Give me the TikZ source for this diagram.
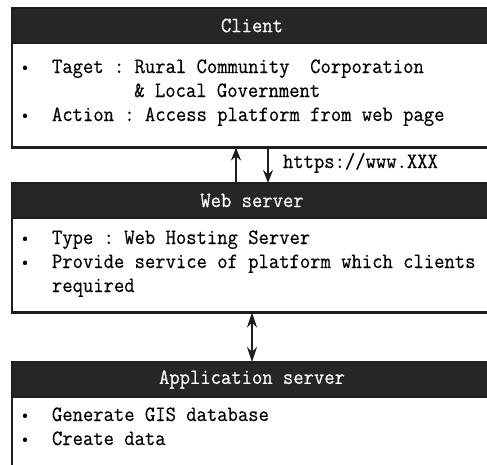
\documentclass[tikz,border=0pt]{standalone}
\usepackage{fontspec}
\setmonofont{Latin Modern Mono}[FakeBold=0.4, FakeStretch=0.92]
\usetikzlibrary{arrows.meta}
\definecolor{ink}{HTML}{1E1E1E}
\definecolor{headfill}{HTML}{262626}
\begin{document}
\begin{tikzpicture}[x=1pt,y=-1pt,
  font=\ttfamily\fontsize{21.8}{24}\selectfont,
  frame/.style={draw=ink, line width=2.5pt, fill=white, anchor=north west,
    minimum width=480pt, inner sep=0pt, outer sep=0pt},
  head/.style={draw=ink, line width=2.5pt, fill=headfill, text=white,
    anchor=north west, minimum width=480pt, minimum height=35pt,
    inner sep=0pt, outer sep=0pt},
  item/.style={anchor=base west, inner sep=0pt, outer sep=0pt},
  dot/.style={anchor=base, inner sep=0pt, outer sep=0pt,
    font=\ttfamily\fontsize{17}{17}\selectfont},
  link/.style={draw=ink, line width=2.2pt, -{Stealth[length=13pt,width=10pt]}},
  both/.style={draw=ink, line width=2.2pt,
    {Stealth[length=15pt,width=10pt]}-{Stealth[length=15pt,width=10pt]}}
]
\useasboundingbox (0,0) rectangle (487,464);
\clip (0,0) rectangle (487,464);

% Client
\node[frame, minimum height=139.5pt] (client) at (12,8) {};
\node[head] (clienthead) at (12,8) {Client};
\node[dot]  (cb1) at (25,72) {\textbullet};
\node[item] (ct1) at (52,73) {Taget : Rural Community\ \ Corporation};
\node[item] (ct2) at (134.3,97) {\& Local Government};
\node[dot]  (cb2) at (25,120) {\textbullet};
\node[item] (ct3) at (52,121) {Action : Access platform from web page};

% Web server
\node[frame, minimum height=129.5pt] (web) at (12,183) {};
\node[head] (webhead) at (12,183) {Web server};
\node[dot]  (wb1) at (25,243) {\textbullet};
\node[item] (wt1) at (52,244) {Type : Web Hosting Server};
\node[dot]  (wb2) at (25,267) {\textbullet};
\node[item] (wt2) at (52,268) {Provide service of platform which clients};
\node[item] (wt3) at (52,292) {required};

% Application server
\node[frame, minimum height=130pt] (app) at (12,362) {};
\node[head] (apphead) at (12,362) {Application server};
\node[dot]  (ab1) at (25,420) {\textbullet};
\node[item] (at1) at (52,421) {Generate GIS database};
\node[dot]  (ab2) at (25,444) {\textbullet};
\node[item] (at2) at (52,445) {Create data};

% Connectors
\draw[link] ([xshift=-16pt]web.north) -- ([xshift=-16pt]client.south);
\draw[link] ([xshift=16pt]client.south) -- ([xshift=16pt]web.north);
\node[item] (url) at (283,168) {https://www.XXX};
\draw[both] (web.south) -- (app.north);
\end{tikzpicture}
\end{document}
